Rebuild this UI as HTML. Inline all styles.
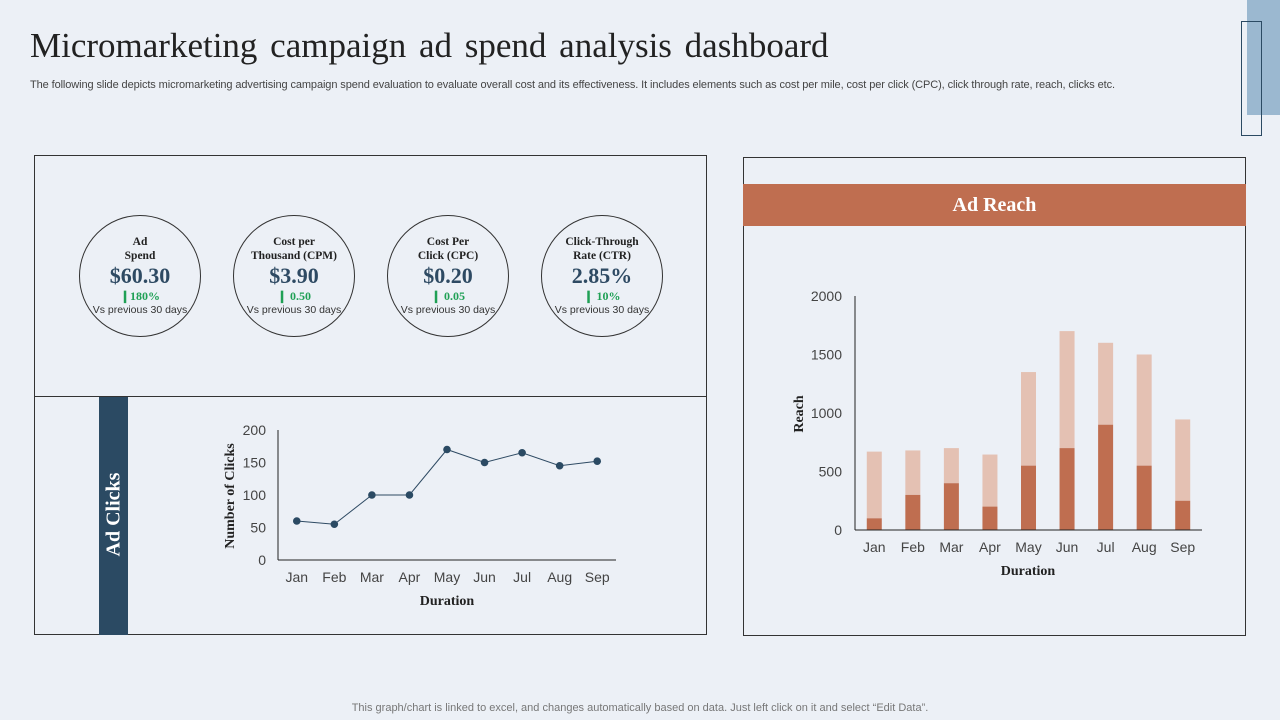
<!DOCTYPE html>
<html><head><meta charset="utf-8"><style>
body{margin:0;width:1280px;height:720px;background:#ecf0f6;position:relative;overflow:hidden;font-family:"Liberation Sans",sans-serif;}
.abs{position:absolute;}
.serif{font-family:"Liberation Serif",serif;}
.circle{position:absolute;width:122px;height:122px;border:1px solid #333;border-radius:50%;text-align:center;box-sizing:border-box;}
.circle .t{font-family:"Liberation Serif",serif;font-weight:bold;font-size:11.5px;line-height:14px;color:#222;margin-top:19px;height:28px;}
.circle .v{font-family:"Liberation Serif",serif;font-weight:bold;font-size:22px;color:#2e4a63;line-height:26px;}
.circle .c{font-family:"Liberation Serif",serif;font-weight:bold;font-size:12px;color:#1fa055;line-height:14px;}
.circle .p{font-size:10.5px;color:#333;line-height:14px;}
</style></head><body>
<div class="abs" style="left:1247px;top:0;width:33px;height:115px;background:#9bb8d0"></div>
<div class="abs" style="left:1241px;top:21px;width:19px;height:113px;border:1px solid #2b4a63"></div>
<div class="abs serif" style="left:30px;top:26px;font-size:35px;color:#222;word-spacing:4px">Micromarketing campaign ad spend analysis dashboard</div>
<div class="abs" style="left:30px;top:79px;font-size:11px;color:#444;letter-spacing:-0.1px">The following slide depicts micromarketing advertising campaign spend evaluation to evaluate overall cost and its effectiveness. It includes elements such as cost per mile, cost per click (CPC), click through rate, reach, clicks etc.</div>

<div class="abs" style="left:34px;top:155px;width:673px;height:480px;border:1px solid #333;box-sizing:border-box"></div>
<div class="abs" style="left:34px;top:396px;width:673px;height:1px;background:#333"></div>

<div class="circle" style="left:79px;top:215px"><div class="t">Ad<br>Spend</div><div class="v">$60.30</div><div class="c">&#x2759;180%</div><div class="p">Vs previous 30 days</div></div>
<div class="circle" style="left:233px;top:215px"><div class="t">Cost per<br>Thousand (CPM)</div><div class="v">$3.90</div><div class="c">&#x2759; 0.50</div><div class="p">Vs previous 30 days</div></div>
<div class="circle" style="left:387px;top:215px"><div class="t">Cost Per<br>Click (CPC)</div><div class="v">$0.20</div><div class="c">&#x2759; 0.05</div><div class="p">Vs previous 30 days</div></div>
<div class="circle" style="left:541px;top:215px"><div class="t">Click-Through<br>Rate (CTR)</div><div class="v">2.85%</div><div class="c">&#x2759; 10%</div><div class="p">Vs previous 30 days</div></div>

<div class="abs" style="left:99px;top:397px;width:29px;height:238px;background:#2b4a63"></div>
<div class="abs serif" style="left:54px;top:503px;width:120px;text-align:center;transform:rotate(-90deg);color:#fff;font-weight:bold;font-size:20px">Ad Clicks</div>

<div class="abs" style="left:743px;top:157px;width:503px;height:479px;border:1px solid #333;box-sizing:border-box"></div>
<div class="abs serif" style="left:743px;top:184px;width:503px;height:42px;background:#bf6e50;color:#fff;font-weight:bold;font-size:20px;line-height:42px;text-align:center">Ad Reach</div>

<svg class="abs" style="left:0;top:0" width="1280" height="720" id="charts"></svg>

<div class="abs" style="left:0;top:702px;width:1280px;text-align:center;font-size:11px;color:#777">This graph/chart is linked to excel, and changes automatically based on data. Just left click on it and select “Edit Data”.</div>

<script>
const months = ["Jan","Feb","Mar","Apr","May","Jun","Jul","Aug","Sep"];
const clicks = [60,55,100,100,170,150,165,145,152];
const clickTicks = [0,50,100,150,200];
const reachBase = [100,300,400,200,550,700,900,550,250];
const reachTotal = [670,680,700,645,1350,1700,1600,1500,945];
const reachTicks = [0,500,1000,1500,2000];

const NS="http://www.w3.org/2000/svg";
const svg=document.getElementById('charts');
function mk(tag,attrs,name,text){const e=document.createElementNS(NS,tag);for(const k in attrs)e.setAttribute(k,attrs[k]);


if(text!==undefined)e.textContent=text;svg.appendChild(e);return e;}

// Clicks chart
const cx0=278,cx1=616,cy0=560,cy1=430,cmax=200;
const cX=i=>cx0+(cx1-cx0)/months.length*(i+0.5);
const cY=v=>cy0-(cy0-cy1)*v/cmax;
mk('line',{x1:cx0,y1:cy1,x2:cx0,y2:cy0,stroke:'#222','stroke-width':1},'clicks-y-axis');
mk('line',{x1:cx0,y1:cy0,x2:cx1,y2:cy0,stroke:'#222','stroke-width':1},'clicks-x-axis');
clickTicks.forEach(t=>mk('text',{x:cx0-12,y:cY(t)+5,'text-anchor':'end','font-size':14,fill:'#444','font-family':'Liberation Sans'},'clicks-y-tick',String(t)));
months.forEach((m,i)=>mk('text',{x:cX(i),y:582,'text-anchor':'middle','font-size':14,fill:'#444','font-family':'Liberation Sans'},'clicks-x-tick',m));
mk('polyline',{points:clicks.map((v,i)=>cX(i)+','+cY(v)).join(' '),fill:'none',stroke:'#2e4a63','stroke-width':1},'clicks-line');
clicks.forEach((v,i)=>mk('circle',{cx:cX(i),cy:cY(v),r:3.8,fill:'#2b4a63'},'clicks-point'));
mk('text',{x:447,y:605,'text-anchor':'middle','font-size':14,'font-weight':'bold',fill:'#222','font-family':'Liberation Serif'},'clicks-x-title','Duration');
mk('text',{x:0,y:0,transform:'translate(234,496) rotate(-90)','text-anchor':'middle','font-size':14,'font-weight':'bold',fill:'#222','font-family':'Liberation Serif'},'clicks-y-title','Number of Clicks');

// Reach chart
const rx0=855,rx1=1202,ry0=530,ry1=296,rmax=2000,bw=15;
const rX=i=>rx0+(rx1-rx0)/months.length*(i+0.5);
const rY=v=>ry0-(ry0-ry1)*v/rmax;
reachTotal.forEach((v,i)=>mk('rect',{x:rX(i)-bw/2,y:rY(v),width:bw,height:rY(reachBase[i])-rY(v),fill:'#e4c1b3'},'reach-bar-total'));
reachBase.forEach((v,i)=>mk('rect',{x:rX(i)-bw/2,y:rY(v),width:bw,height:ry0-rY(v),fill:'#bf6e50'},'reach-bar-base'));
mk('line',{x1:rx0,y1:ry1,x2:rx0,y2:ry0,stroke:'#222','stroke-width':1},'reach-y-axis');
mk('line',{x1:rx0,y1:ry0,x2:rx1,y2:ry0,stroke:'#222','stroke-width':1},'reach-x-axis');
reachTicks.forEach(t=>mk('text',{x:842,y:rY(t)+5,'text-anchor':'end','font-size':14,fill:'#444','font-family':'Liberation Sans'},'reach-y-tick',String(t)));
months.forEach((m,i)=>mk('text',{x:rX(i),y:552,'text-anchor':'middle','font-size':14,fill:'#444','font-family':'Liberation Sans'},'reach-x-tick',m));
mk('text',{x:1028,y:575,'text-anchor':'middle','font-size':14,'font-weight':'bold',fill:'#222','font-family':'Liberation Serif'},'reach-x-title','Duration');
mk('text',{x:0,y:0,transform:'translate(803,414) rotate(-90)','text-anchor':'middle','font-size':14,'font-weight':'bold',fill:'#222','font-family':'Liberation Serif'},'reach-y-title','Reach');
</script>
</body></html>
